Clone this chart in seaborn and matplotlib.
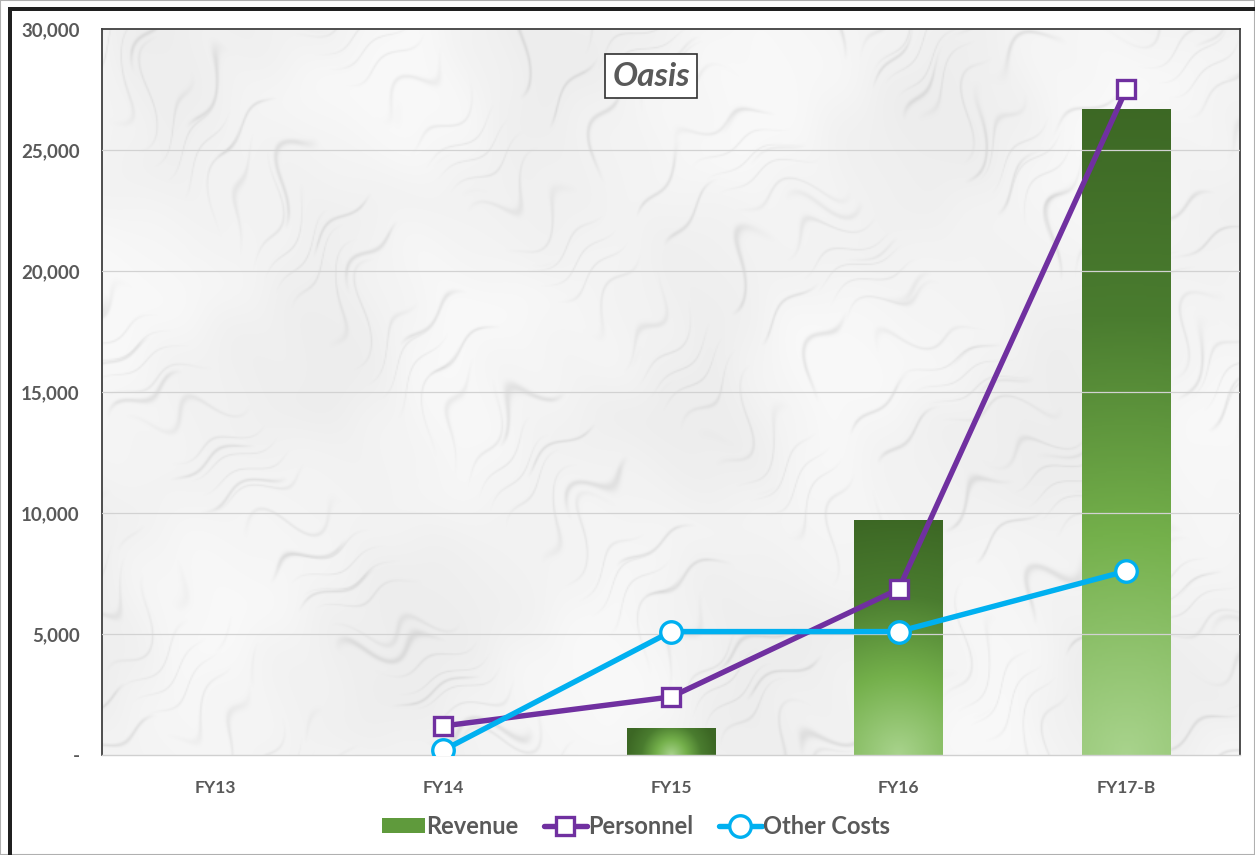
import numpy as np
import pandas as pd
import matplotlib
matplotlib.use("Agg")
import matplotlib.pyplot as plt
import seaborn as sns
from matplotlib.patches import Rectangle, Patch
from matplotlib.lines import Line2D
from matplotlib.colors import LinearSegmentedColormap

# ---- data ----
categories = ["FY13", "FY14", "FY15", "FY16", "FY17-B"]
revenue = [0, 0, 1100, 9700, 26700]
personnel = [np.nan, 1200, 2400, 6850, 27500]
other_costs = [np.nan, 200, 5100, 5100, 7600]
y_ticks = [0, 5000, 10000, 15000, 20000, 25000, 30000]
title_text = "Oasis"
series_names = ["Revenue", "Personnel", "Other Costs"]

sns.set_theme(style="white")
plt.rcParams["font.family"] = ["Lato", "DejaVu Sans"]

GRAY = "#595959"
PURPLE = "#7030a0"
CYAN = "#00b0f0"
LW = 3.9

fig = plt.figure(figsize=(12.55, 8.55), dpi=100)
fig.patch.set_facecolor("white")
ax = fig.add_axes([102 / 1255, 100 / 855, 1138 / 1255, 726 / 855])

# marble-like background (deterministic, faint diagonal veins)
ny, nx = 500, 800
yy, xx = np.mgrid[0:ny, 0:nx] / 100.0
warp = 0.25 * np.sin(xx * 2.3 - yy * 1.9) + 0.15 * np.sin(yy * 5.3 + xx * 3.1) + 0.08 * np.sin(xx * 11.0 - yy * 7.0)
u = xx + yy + warp
v = xx - yy
veins = np.exp(-(np.sin(u * 5.0)) ** 2 / 0.015) * np.clip(np.sin(v * 2.3 + 0.7) + np.sin(v * 5.1), 0, 1)
veins2 = np.exp(-(np.sin(u * 11.0 + 1.3 + 0.4 * np.sin(v * 4.0))) ** 2 / 0.03) * np.clip(np.sin(v * 3.3 + 2.0), 0, 1)
cloud = 0.5 + 0.25 * np.sin(u * 2.2 + 0.5 * np.sin(v * 3.0)) + 0.25 * np.sin(v * 1.7 + u * 0.8)
base = 0.975 - 0.045 * cloud - 0.07 * veins - 0.05 * veins2
ax.imshow(np.dstack([base, base, base]), extent=[-0.5, 4.5, 0, 30000], aspect="auto",
          zorder=0, interpolation="bilinear")

ax.set_xlim(-0.5, 4.5)
ax.set_ylim(0, 30000)

# gridlines
for t in y_ticks[1:-1]:
    ax.axhline(t, color="#d2d2d2", lw=0.9, zorder=1)

# bars
df_rev = pd.DataFrame({"cat": categories, "Revenue": revenue})
sns.barplot(data=df_rev, x="cat", y="Revenue", order=categories, color="#70ad47",
            width=0.39, linewidth=0, ax=ax, zorder=2, errorbar=None)
ax.set_xlim(-0.5, 4.5)
ax.set_ylim(0, 30000)

# gradient fill for bars
cmap = LinearSegmentedColormap.from_list("g", ["#a8d38c", "#74b04b", "#4a7c2f", "#3c6724"])
fig.canvas.draw()
for p in ax.patches:
    h = p.get_height()
    if not np.isfinite(h) or h <= 0:
        continue
    x0, w = p.get_x(), p.get_width()
    (px0, py0) = ax.transData.transform((x0, 0))
    (px1, py1) = ax.transData.transform((x0 + w, h))
    wpx, hpx = px1 - px0, py1 - py0
    nxg, nyg = 80, 200
    gx = np.linspace(-wpx / 2, wpx / 2, nxg)
    gy = np.linspace(0, hpx, nyg)
    GX, GY = np.meshgrid(gx, gy)
    R = max(hpx, wpx / 2) * 1.02
    d = np.clip(np.sqrt(GX ** 2 + GY ** 2) / R, 0, 1)
    im = ax.imshow(cmap(d), extent=[x0, x0 + w, 0, h], origin="lower", aspect="auto",
                   zorder=2.5, interpolation="bilinear")
    im.set_clip_path(p)
    p.set_facecolor("none")

# lines
sns.pointplot(x=categories, y=personnel, order=categories, color=PURPLE, markers="s",
              errorbar=None, ax=ax, linewidth=LW, markersize=13)
sns.pointplot(x=categories, y=other_costs, order=categories, color=CYAN, markers="o",
              errorbar=None, ax=ax, linewidth=LW, markersize=15.5)
for ln in ax.lines:
    c = ln.get_color()
    ln.set_markerfacecolor("white")
    ln.set_markeredgecolor(c)
    ln.set_markeredgewidth(2.4)
    ln.set_zorder(4)
ax.set_xlim(-0.5, 4.5)
ax.set_ylim(0, 30000)

# axes styling
ax.set_xlabel("")
ax.set_ylabel("")
ax.set_yticks(y_ticks)
ax.set_yticklabels(["-" if v == 0 else f"{v:,}" for v in y_ticks])
ax.set_xticks(range(len(categories)))
ax.set_xticklabels(categories)
ax.tick_params(axis="y", length=0, pad=16, labelsize=13.5, labelcolor=GRAY)
ax.tick_params(axis="x", length=0, pad=18, labelsize=12.5, labelcolor=GRAY)
for lab in ax.get_yticklabels() + ax.get_xticklabels():
    lab.set_fontweight("bold")
for s in ["left", "top", "right"]:
    ax.spines[s].set_color("#404040")
    ax.spines[s].set_linewidth(1.3)
    ax.spines[s].set_visible(True)
ax.spines["bottom"].set_color("#d0d0d0")
ax.spines["bottom"].set_linewidth(1.0)
ax.spines["bottom"].set_visible(True)

# title box
fig.text(651 / 1255, 1 - 76 / 855, title_text, ha="center", va="center", fontsize=24,
         fontstyle="italic", fontweight="bold", color=GRAY,
         bbox=dict(boxstyle="square,pad=0.22", facecolor="white", edgecolor="#303030", linewidth=1.2))

# legend
handles = [
    Patch(facecolor="#5f9a3c", edgecolor="none", label=series_names[0]),
    Line2D([0], [0], color=PURPLE, lw=LW, marker="s", markersize=13, markerfacecolor="white",
           markeredgecolor=PURPLE, markeredgewidth=2.4, label=series_names[1]),
    Line2D([0], [0], color=CYAN, lw=LW, marker="o", markersize=15.5, markerfacecolor="white",
           markeredgecolor=CYAN, markeredgewidth=2.4, label=series_names[2]),
]
leg = fig.legend(handles=handles, loc="center", bbox_to_anchor=(636 / 1255, 1 - 826 / 855), ncol=3,
                 frameon=False, fontsize=17, handlelength=1.8, handletextpad=0.05, columnspacing=1.1,
                 handleheight=0.6)
for t in leg.get_texts():
    t.set_color(GRAY)
    t.set_fontweight("bold")

# outer frame
fig.patches.append(Rectangle((0, 0), 1, 1, transform=fig.transFigure, fill=False,
                             edgecolor="#b0b0b0", linewidth=1.5, zorder=10))
fig.patches.append(Rectangle((8 / 1255, 0), 4 / 1255, 1 - 8 / 855, transform=fig.transFigure,
                             facecolor="#202020", edgecolor="none", zorder=11))
fig.patches.append(Rectangle((8 / 1255, 1 - 11 / 855), 1 - 8 / 1255, 4 / 855, transform=fig.transFigure,
                             facecolor="#202020", edgecolor="none", zorder=11))

fig.savefig("out.png", dpi=100)
